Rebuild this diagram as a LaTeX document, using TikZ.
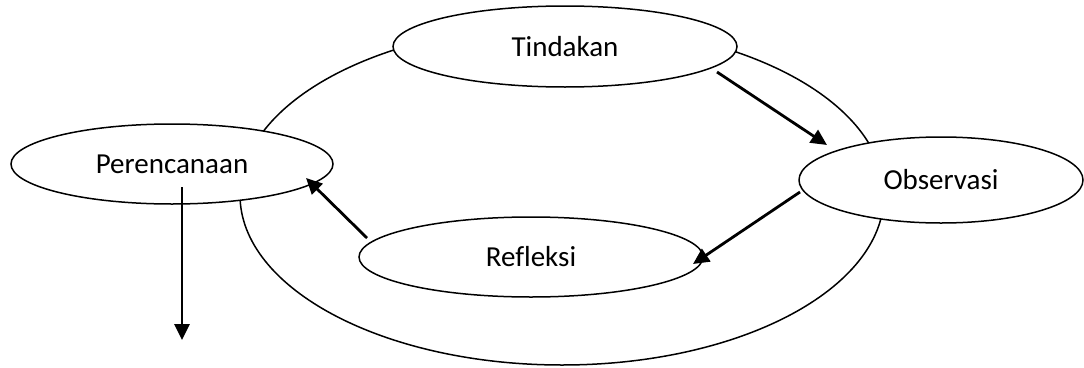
\documentclass[tikz,border=0pt]{standalone}
\usepackage{fontspec}
\setmainfont{Carlito}[Ligatures=NoCommon]
\usetikzlibrary{shapes.geometric,arrows.meta}
\begin{document}
\begin{tikzpicture}[x=1pt,y=-1pt,
  stage/.style={ellipse, draw, fill=white, line width=1.5pt, inner sep=0pt,
    font=\fontsize{29}{32}\selectfont},
  ring/.style={ellipse, draw, line width=1.5pt, inner sep=0pt},
  flow/.style={line width=2.8pt, -{Triangle[length=16pt,width=15pt]}}]
\useasboundingbox (0,0) rectangle (1084,367);
% the cycle ring behind the stages
\node[ring, minimum width=644pt, minimum height=340pt] (cycle) at (562,195) {};
% stages
\node[stage, minimum width=322pt, minimum height=80pt] (plan) at (172,164) {Perencanaan};
\node[stage, minimum width=344pt, minimum height=81pt] (act)  at (565,46.5) {Tindakan};
\node[stage, minimum width=284pt, minimum height=86pt] (obs)  at (941,180) {Observasi};
\node[stage, minimum width=344pt, minimum height=80pt] (ref)  at (531,257) {Refleksi};
% arrow end points
\coordinate (a1) at (717,72);  \coordinate (b1) at (827,145);
\coordinate (a2) at (800,192); \coordinate (b2) at (693,264);
\coordinate (a3) at (367,238); \coordinate (b3) at (306,178);
\coordinate (a4) at (182,187); \coordinate (b4) at (182,340);
\draw[flow] (a1) -- (b1);
\draw[flow] (a2) -- (b2);
\draw[flow] (a3) -- (b3);
\draw[flow] (a4) -- (b4);
\end{tikzpicture}
\end{document}
